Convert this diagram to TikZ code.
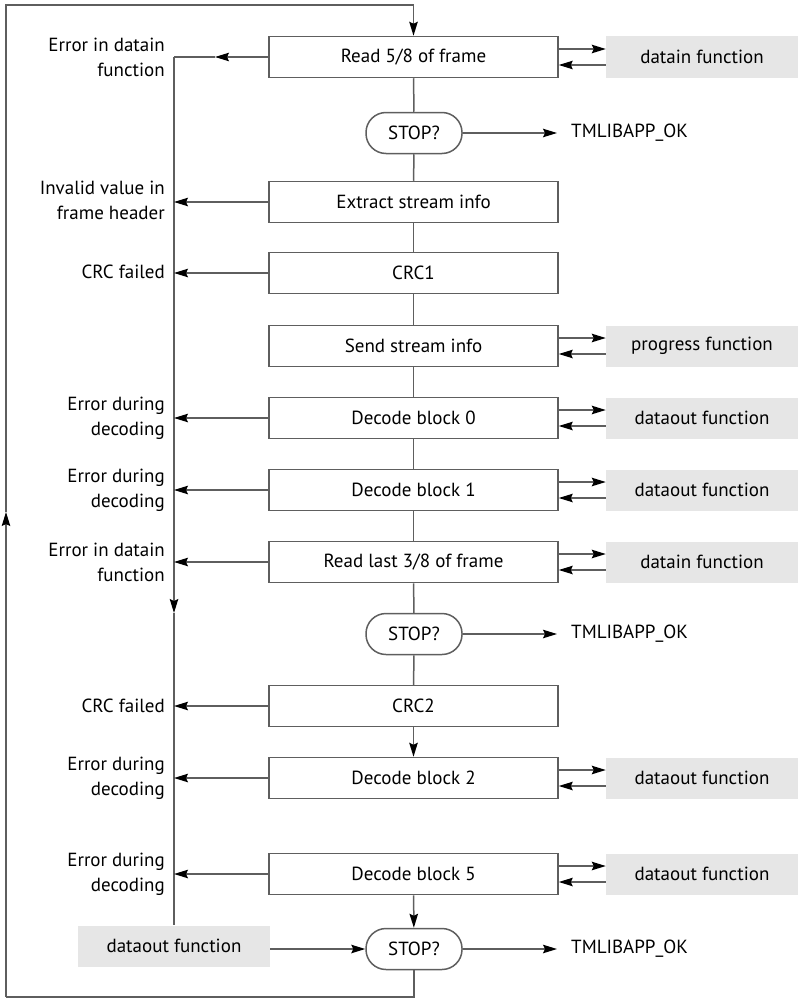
\documentclass[tikz,border=0pt]{standalone}
\usepackage{fontspec}
\setmainfont{PT Sans}
\usetikzlibrary{arrows.meta}
\definecolor{linegray}{HTML}{5E5E5E}
\definecolor{fillgray}{HTML}{E6E6E6}
\begin{document}
\begin{tikzpicture}[x=1pt,y=-1pt,
  font=\fontsize{19}{25}\selectfont,
  stepbox/.style={draw=linegray, line width=1.5pt, minimum width=289pt, minimum height=41pt, inner sep=0pt},
  funcbox/.style={fill=fillgray, minimum width=192pt, minimum height=41pt, inner sep=0pt},
  stopbox/.style={draw=linegray, line width=1.5pt, rounded corners=20pt, minimum width=96pt, minimum height=41pt, inner sep=0pt},
  errlabel/.style={anchor=east, align=right, inner sep=0pt},
  oklabel/.style={anchor=west, inner sep=0pt},
  conn/.style={draw=linegray, line width=1.5pt},
  tip/.style={-{Stealth[length=14pt,width=8.5pt,inset=2pt,color=black]}}]
\useasboundingbox (0,0) rectangle (798,998);

% main column of steps
\node[stepbox] (r1) at (413.5,57) {Read 5/8 of frame};
\node[stopbox] (s1) at (414,133) {STOP?};
\node[stepbox] (r2) at (413.5,202) {Extract stream info};
\node[stepbox] (r3) at (413.5,273) {CRC1};
\node[stepbox] (r4) at (413.5,346) {Send stream info};
\node[stepbox] (r5) at (413.5,418) {Decode block 0};
\node[stepbox] (r6) at (413.5,490) {Decode block 1};
\node[stepbox] (r7) at (413.5,562) {Read last 3/8 of frame};
\node[stopbox] (s2) at (414,634) {STOP?};
\node[stepbox] (r8) at (413.5,706) {CRC2};
\node[stepbox] (r9) at (413.5,778) {Decode block 2};
\node[stepbox] (r10) at (413.5,874) {Decode block 5};
\node[stopbox] (s3) at (414,949) {STOP?};

% callback functions on the right
\node[funcbox] (f1) at (702,57) {datain function};
\node[funcbox] (f4) at (702,346) {progress function};
\node[funcbox] (f5) at (702,418) {dataout function};
\node[funcbox] (f6) at (702,490) {dataout function};
\node[funcbox] (f7) at (702,562) {datain function};
\node[funcbox] (f9) at (702,778) {dataout function};
\node[funcbox] (f10) at (702,874) {dataout function};

% error path collector
\node[funcbox] (dl) at (174,946) {dataout function};

% error labels
\node[errlabel] (e1) at (165,57) {Error in datain\\function};
\node[errlabel] (e2) at (165,200) {Invalid value in\\frame header};
\node[errlabel] (e3) at (165,272) {CRC failed};
\node[errlabel] (e5) at (165,418) {Error during\\decoding};
\node[errlabel] (e6) at (165,490) {Error during\\decoding};
\node[errlabel] (e7) at (165,562) {Error in datain\\function};
\node[errlabel] (e8) at (165,706) {CRC failed};
\node[errlabel] (e9) at (165,778) {Error during\\decoding};
\node[errlabel] (e10) at (165,874) {Error during\\decoding};

% exit labels
\node[oklabel] (ok1) at (571,133) {TMLIBAPP\_OK};
\node[oklabel] (ok2) at (571,634) {TMLIBAPP\_OK};
\node[oklabel] (ok3) at (571,949) {TMLIBAPP\_OK};

% helper coordinates
\coordinate (c1) at (174,57);
\coordinate (c1tip) at (215,57);
\coordinate (downtip) at (174,613);
\coordinate (bl) at (6,997);
\coordinate (tl) at (6,5);
\coordinate (tr) at (413.5,5);
\coordinate (uptip) at (6,512);

% vertical flow
\draw[conn] (r1) -- (s1);
\draw[conn] (s1) -- (r2);
\draw[conn] (r2) -- (r3);
\draw[conn] (r3) -- (r4);
\draw[conn] (r4) -- (r5);
\draw[conn] (r5) -- (r6);
\draw[conn] (r6) -- (r7);
\draw[conn] (r7) -- (s2);
\draw[conn] (s2) -- (r8);
\draw[conn,tip] (r8) -- (r9);
\draw[conn,tip] (r10) -- (s3);

% outer loop back to the top
\draw[conn] (s3.south) |- (bl);
\draw[conn,tip] (bl) -- (uptip);
\draw[conn] (uptip) -- (tl) -- (tr);
\draw[conn,tip] (tr) -- (r1.north);

% error collector line
\draw[conn,tip] (r1.west) -- (c1tip);
\draw[conn] (c1tip) -- (c1);
\draw[conn,tip] (c1) -- (downtip);
\draw[conn] (downtip) -- (dl.north);
\foreach \n in {r2,r3,r5,r6,r7,r8,r9,r10}
  \draw[conn,tip] (\n.west) -- (\n.west -| c1);
\draw[conn,tip] (dl.east |- s3.west) -- (s3.west);

% calls to the callback functions
\foreach \a/\b in {r1/f1,r4/f4,r5/f5,r6/f6,r7/f7,r9/f9,r10/f10}{
  \draw[conn,tip] ([yshift=8pt]\a.east) -- ([yshift=8pt]\b.west);
  \draw[conn,tip] ([yshift=-8pt]\b.west) -- ([yshift=-8pt]\a.east);
}

% stop exits
\draw[conn,tip,shorten >=14pt] (s1.east) -- (ok1.west);
\draw[conn,tip,shorten >=14pt] (s2.east) -- (ok2.west);
\draw[conn,tip,shorten >=14pt] (s3.east) -- (ok3.west);
\end{tikzpicture}
\end{document}
